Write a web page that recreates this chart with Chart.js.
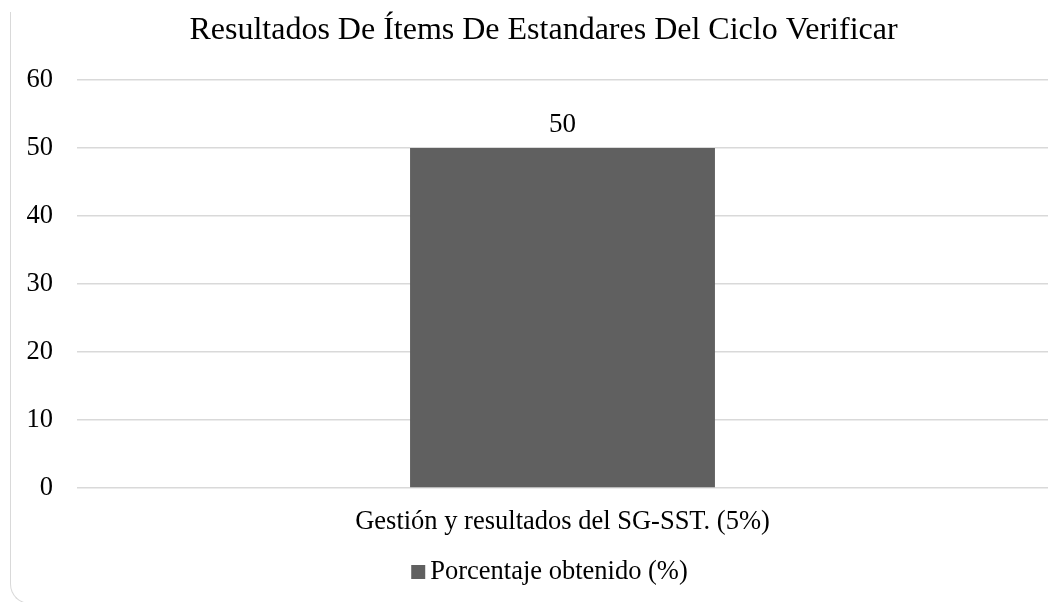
<!DOCTYPE html>
<html>
<head>
<meta charset="utf-8">
<script src="https://cdn.jsdelivr.net/npm/chart.js@4/dist/chart.umd.min.js"></script>
<style>
  html, body { margin: 0; padding: 0; background: #ffffff; }
  #wrap { position: relative; width: 1062px; height: 602px; overflow: hidden; }
  #frame {
    position: absolute; left: 10px; top: 12px; width: 1200px; height: 591px;
    border-left: 1px solid #d9d9d9; border-bottom: 1px solid #d9d9d9;
    border-bottom-left-radius: 20px;
  }
  canvas { position: absolute; left: 0; top: 0; }
</style>
</head>
<body>
<div id="wrap">
  <div id="frame"></div>
  <canvas id="chart" width="1062" height="602"></canvas>
</div>
<script>
// Chart data
const categories = ['Gestión y resultados del SG-SST. (5%)'];
const seriesName = 'Porcentaje obtenido (%)';
const seriesValues = [50];
const yTicks = [0, 10, 20, 30, 40, 50, 60];
const chartTitle = 'Resultados De Ítems De Estandares Del Ciclo Verificar';

const FONT = "'Liberation Serif', 'Times New Roman', serif";
const BAR_COLOR = '#606060';

// title, value labels and legend are drawn here so they can sit
// centred on the (wider, cropped) chart frame like the original
const decorations = {
    id: 'decorations',
    afterDatasetsDraw(chart) {
        const ctx = chart.ctx;
        ctx.save();
        ctx.fillStyle = '#000000';

        // value above each bar
        ctx.font = '27px ' + FONT;
        ctx.textAlign = 'center';
        ctx.textBaseline = 'alphabetic';
        chart.getDatasetMeta(0).data.forEach((bar, i) => {
            ctx.fillText(String(seriesValues[i]), bar.x, bar.y - 16);
        });

        // title
        ctx.font = '32px ' + FONT;
        ctx.fillText(chartTitle, 543.5, 39);

        // legend
        const ds = chart.data.datasets[0];
        ctx.font = '26.5px ' + FONT;
        ctx.textAlign = 'left';
        const textW = ctx.measureText(ds.label).width;
        const boxW = 14, gap = 5;
        const x0 = 549.5 - (boxW + gap + textW) / 2;
        ctx.fillStyle = ds.backgroundColor;
        ctx.fillRect(x0, 565, boxW, 14);
        ctx.fillStyle = '#000000';
        ctx.fillText(ds.label, x0 + boxW + gap, 579);
        ctx.restore();
    }
};

const chart = new Chart(document.getElementById('chart').getContext('2d'), {
    type: 'bar',
    data: {
        labels: categories,
        datasets: [{
            label: seriesName,
            data: seriesValues,
            backgroundColor: BAR_COLOR,
            borderWidth: 0,
            categoryPercentage: 1,
            barPercentage: 0.314
        }]
    },
    options: {
        responsive: false,
        animation: false,
        layout: { padding: { left: 0, right: 14, top: 80, bottom: 45.5 } },
        scales: {
            x: {
                grid: { display: false, drawTicks: false, tickLength: 0 },
                border: { display: false },
                ticks: { color: '#000000', font: { family: FONT, size: 26.5, lineHeight: 1 }, padding: 21 }
            },
            y: {
                min: 0,
                max: 60,
                afterFit: (axis) => { axis.width = 77; },
                afterBuildTicks: (axis) => { axis.ticks = yTicks.map(v => ({ value: v })); },
                grid: { color: '#d9d9d9', lineWidth: 1.5, drawTicks: false },
                border: { display: false },
                ticks: { color: '#000000', font: { family: FONT, size: 26.5 }, padding: 24 }
            }
        },
        plugins: {
            title: { display: false },
            legend: { display: false },
            tooltip: { enabled: false }
        }
    },
    plugins: [decorations]
});
</script>
</body>
</html>
